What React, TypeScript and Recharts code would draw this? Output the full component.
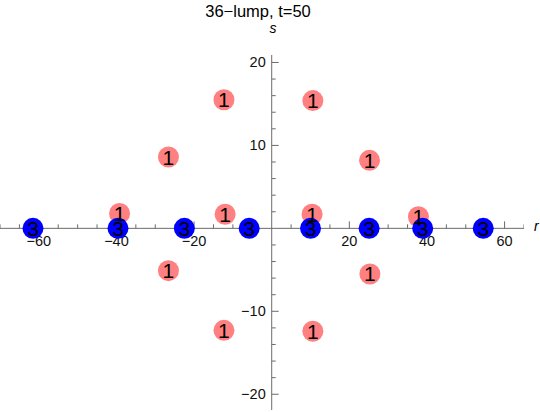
import { ScatterChart, Scatter, XAxis, YAxis, ReferenceLine } from "recharts";

// 36-lump configuration at t=50: 12 single lumps and 8 triple lumps on the r axis
const pinkR = [-12.3, 10.6, -26.6, 25.2, -39.2, -12.0, 10.4, 37.8, -26.6, 25.3, -12.3, 10.6];
const pinkS = [15.5, 15.4, 8.6, 8.2, 1.8, 1.7, 1.7, 1.4, -5.1, -5.5, -12.3, -12.4];
const blueR = [-61.5, -39.6, -22.5, -5.8, 10.0, 25.1, 38.9, 54.5];
const blueS = [0, 0, 0, 0, 0, 0, 0, 0];

const xMajor = [-60, -40, -20, 20, 40, 60];
const xMinor = [-70, -65, -55, -50, -45, -35, -30, -25, -15, -10, -5, 5, 10, 15, 25, 30, 35, 45, 50, 55, 65];
const yMajor = [-20, -10, 10, 20];
const yMinor = [-18, -16, -14, -12, -8, -6, -4, -2, 2, 4, 6, 8, 12, 14, 16, 18];

const pink = pinkR.map((r, i) => ({ r, s: pinkS[i] }));
const blue = blueR.map((r, i) => ({ r, s: blueS[i] }));
const xMajorPts = xMajor.map((r) => ({ r, s: 0 }));
const xMinorPts = xMinor.map((r) => ({ r, s: 0 }));
const yMajorPts = yMajor.map((s) => ({ r: 0, s }));
const yMinorPts = yMinor.map((s) => ({ r: 0, s }));

const AXIS = "#6b6b6b";
const PINK = "#ff8080";
const BLUE = "#0000ff";
const FONT = "'Liberation Sans', Arial, sans-serif";

const fmt = (v: number) => (v < 0 ? `\u2212${-v}` : `${v}`);

const xTick = (len: number, label: boolean) => (p: any) => (
  <g>
    <line x1={p.cx} x2={p.cx} y1={p.cy} y2={p.cy - len} stroke={AXIS} strokeWidth={1} />
    {label && (
      <text x={p.cx} y={p.cy + 18} textAnchor="middle" fontSize={14.5} fontFamily={FONT} fill="#111">
        {fmt(p.payload.r)}
      </text>
    )}
  </g>
);

const yTick = (len: number, label: boolean) => (p: any) => (
  <g>
    <line x1={p.cx} x2={p.cx + len} y1={p.cy} y2={p.cy} stroke={AXIS} strokeWidth={1} />
    {label && (
      <text x={p.cx - 6} y={p.cy + 5} textAnchor="end" fontSize={14.5} fontFamily={FONT} fill="#111">
        {fmt(p.payload.s)}
      </text>
    )}
  </g>
);

const dot = (color: string) => (p: any) => <circle cx={p.cx} cy={p.cy} r={10.5} fill={color} />;

const mark = (txt: string) => (p: any) => (
  <text x={p.cx} y={p.cy + 7.5} textAnchor="middle" fontSize={21} fontFamily={FONT} fill="#000">
    {txt}
  </text>
);

export default function App() {
  return (
    <div style={{ position: "absolute", left: 0, top: 0, width: 540, height: 412, background: "#fff", fontFamily: FONT }}>
      <div style={{ position: "absolute", left: 158, top: 2, width: 200, textAlign: "center", fontSize: 16.5, lineHeight: "18px" }}>
        36{"\u2212"}lump, t=50
      </div>
      <div style={{ position: "absolute", left: 262, top: 20, width: 22, textAlign: "center", fontSize: 14, lineHeight: "16px", fontStyle: "italic" }}>
        s
      </div>
      <div style={{ position: "absolute", left: 534, top: 218, fontSize: 14, lineHeight: "16px", fontStyle: "italic" }}>
        r
      </div>
      <ScatterChart width={540} height={412} margin={{ top: 55, right: 16, bottom: 2, left: 0 }}>
        <XAxis type="number" dataKey="r" domain={[-70, 65]} allowDataOverflow hide />
        <YAxis type="number" dataKey="s" domain={[-21.9, 20.9]} allowDataOverflow hide width={0} />
        <ReferenceLine x={0} stroke={AXIS} strokeWidth={1} />
        <ReferenceLine y={0} stroke={AXIS} strokeWidth={1} />
        <Scatter data={xMinorPts} shape={xTick(4, false)} isAnimationActive={false} />
        <Scatter data={xMajorPts} shape={xTick(7, true)} isAnimationActive={false} />
        <Scatter data={yMinorPts} shape={yTick(4, false)} isAnimationActive={false} />
        <Scatter data={yMajorPts} shape={yTick(7, true)} isAnimationActive={false} />
        <Scatter data={pink} shape={dot(PINK)} isAnimationActive={false} />
        <Scatter data={blue} shape={dot(BLUE)} isAnimationActive={false} />
        <Scatter data={pink} shape={mark("1")} isAnimationActive={false} />
        <Scatter data={blue} shape={mark("3")} isAnimationActive={false} />
      </ScatterChart>
    </div>
  );
}
